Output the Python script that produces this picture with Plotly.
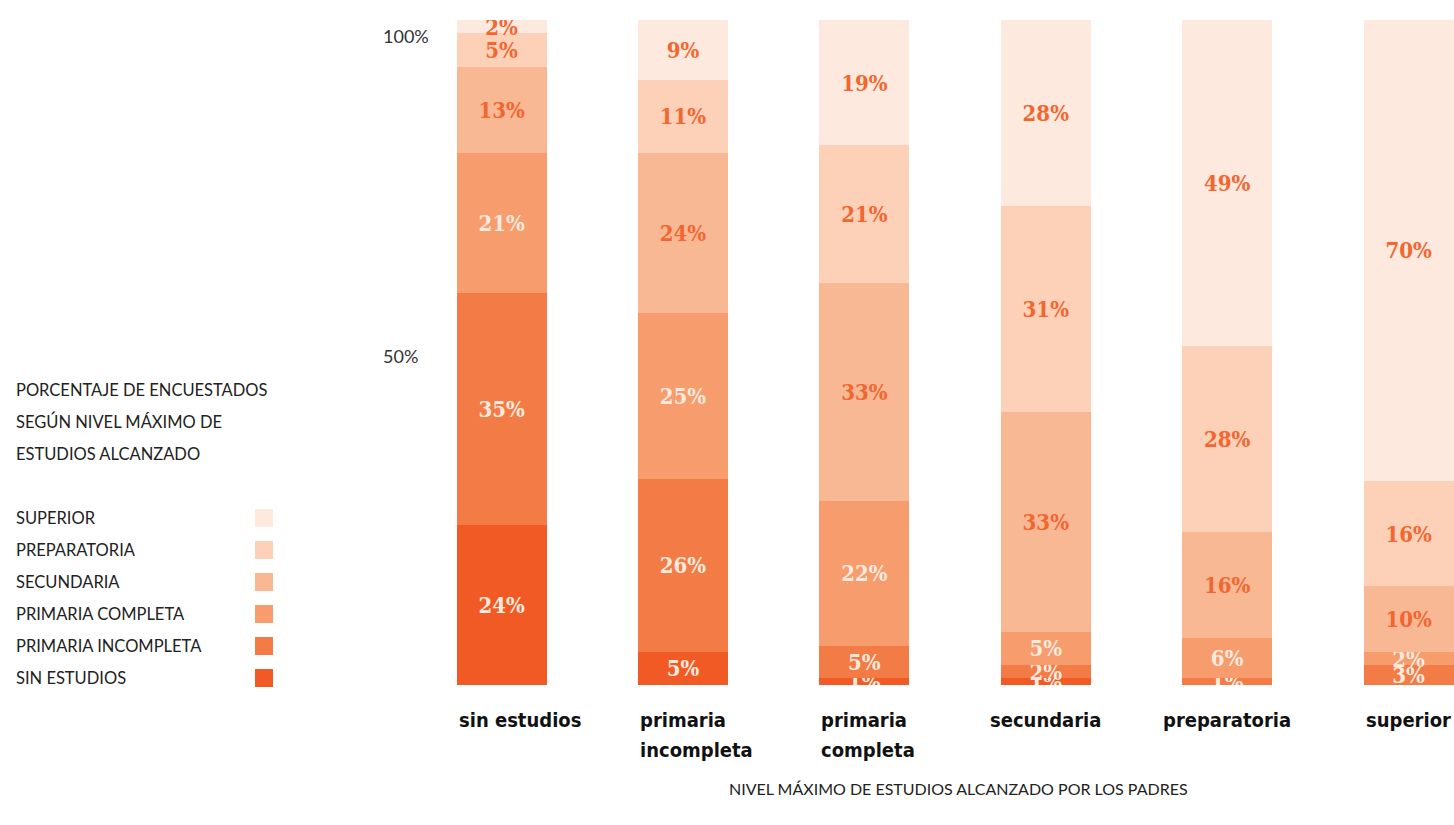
import plotly.graph_objects as go

# ---------------- data ----------------
categories = ["sin estudios", "primaria incompleta", "primaria completa",
              "secundaria", "preparatoria", "superior"]
category_labels = [["sin estudios"], ["primaria", "incompleta"], ["primaria", "completa"],
                   ["secundaria"], ["preparatoria"], ["superior"]]

series_names = ["SIN ESTUDIOS", "PRIMARIA INCOMPLETA", "PRIMARIA COMPLETA",
                "SECUNDARIA", "PREPARATORIA", "SUPERIOR"]
sin_estudios = [24, 5, 1, 1, 0, 0]
primaria_incompleta = [35, 26, 5, 2, 1, 3]
primaria_completa = [21, 25, 22, 5, 6, 2]
secundaria = [13, 24, 33, 33, 16, 10]
preparatoria = [5, 11, 21, 31, 28, 16]
superior = [2, 9, 19, 28, 49, 70]
series_values = [sin_estudios, primaria_incompleta, primaria_completa,
                 secundaria, preparatoria, superior]

y_tick_values = [0, 50, 100]
y_tick_labels = ["0%", "50%", "100%"]

title_lines = ["PORCENTAJE DE ENCUESTADOS", "SEGÚN NIVEL MÁXIMO DE", "ESTUDIOS ALCANZADO"]
x_title = "NIVEL MÁXIMO DE ESTUDIOS ALCANZADO POR LOS PADRES"

# ---------------- style ----------------
colors = ["#F15A24", "#F37B45", "#F69C6D", "#F9B894", "#FCD1B8", "#FDE9DD"]
light_text = "#FDEADF"
orange_text = "#F26630"
text_colors = [light_text, light_text, light_text, orange_text, orange_text, orange_text]
label_anchor = ["left", "left", "left", "center", "center", "left"]

W, H = 1454, 825
ML, MR, MT, MB = 380, 0, 20, 140
PW = W - ML - MR
PH = H - MT - MB


def px_x(px):
    return (px - ML) / PW


def px_y(py):
    return (MT + PH - py) / PH


label_font = "DejaVu Serif Condensed, DejaVu Serif, serif"
cat_font = "Liberation Sans Narrow, DejaVu Sans Condensed, sans-serif"
light_font = "Lato, Open Sans, sans-serif"

fig = go.Figure()

for name, vals, col, tcol in zip(series_names, series_values, colors, text_colors):
    fig.add_trace(go.Bar(
        x=categories,
        y=vals,
        name=name,
        marker=dict(color=col, line=dict(width=0)),
        text=[f"{v}%" if v > 0 else "" for v in vals],
        textposition="inside",
        insidetextanchor="middle",
        textangle=0,
        textfont=dict(family=label_font, size=22, color=tcol, weight="bold"),
        hoverinfo="skip",
        showlegend=False,
    ))

# invisible trace that carries the percentage scale on the secondary axis
fig.add_trace(go.Scatter(
    x=[categories[0]], y=[0], yaxis="y2", mode="markers",
    marker=dict(opacity=0), hoverinfo="skip", showlegend=False,
))

bargap = 0.504
half_bar = (1 - bargap) / 2
fig.update_layout(
    width=W, height=H,
    margin=dict(l=ML, r=MR, t=MT, b=MB, pad=0),
    paper_bgcolor="white", plot_bgcolor="white",
    barmode="stack", barnorm="percent", bargap=bargap,
    uniformtext=dict(mode="show", minsize=22),
    xaxis=dict(
        type="category", range=[-0.6706, 5.25],
        showticklabels=False, showgrid=False, zeroline=False, showline=False, ticks="",
    ),
    yaxis=dict(range=[0, 100], visible=False, showgrid=False, zeroline=False),
    yaxis2=dict(
        overlaying="y", side="left", range=[-1.25, 102.65],
        tickvals=y_tick_values, ticktext=y_tick_labels,
        ticklabelposition="inside", ticks="",
        showgrid=False, zeroline=False, showline=False,
        tickfont=dict(family=light_font, size=18, color="#333333"),
    ),
    showlegend=False,
)

annotations = []
# category labels
for idx, (lines, anchor) in enumerate(zip(category_labels, label_anchor)):
    xpos = idx - half_bar if anchor == "left" else idx
    for j, line in enumerate(lines):
        annotations.append(dict(
            x=xpos, xref="x", y=px_y(720 + 30 * j), yref="paper",
            text=line, showarrow=False, xanchor=anchor, yanchor="middle",
            font=dict(family=cat_font, size=20, color="#111111", weight="bold"),
        ))

# title block
for i, line in enumerate(title_lines):
    annotations.append(dict(
        x=px_x(14), xref="paper", y=px_y(390 + 32 * i), yref="paper",
        text=line, showarrow=False, xanchor="left", yanchor="middle",
        font=dict(family=light_font, size=16.5, color="#222222"),
    ))

# legend (top = last series)
shapes = []
for i, (name, col) in enumerate(zip(series_names[::-1], colors[::-1])):
    cy = 518 + 32 * i
    annotations.append(dict(
        x=px_x(14), xref="paper", y=px_y(cy), yref="paper",
        text=name, showarrow=False, xanchor="left", yanchor="middle",
        font=dict(family=light_font, size=16.5, color="#222222"),
    ))
    shapes.append(dict(
        type="rect", xref="paper", yref="paper",
        x0=px_x(255), x1=px_x(273), y0=px_y(cy + 9), y1=px_y(cy - 9),
        fillcolor=col, line=dict(width=0),
    ))

# x-axis title
annotations.append(dict(
    x=px_x(958), xref="paper", y=px_y(788), yref="paper",
    text=x_title, showarrow=False, xanchor="center", yanchor="middle",
    font=dict(family=light_font, size=16, color="#222222"),
))

fig.update_layout(annotations=annotations, shapes=shapes)

fig.write_html(
    "out.html",
    config={"displayModeBar": False},
    post_script="document.body.style.margin='0';document.body.style.padding='0';",
)
